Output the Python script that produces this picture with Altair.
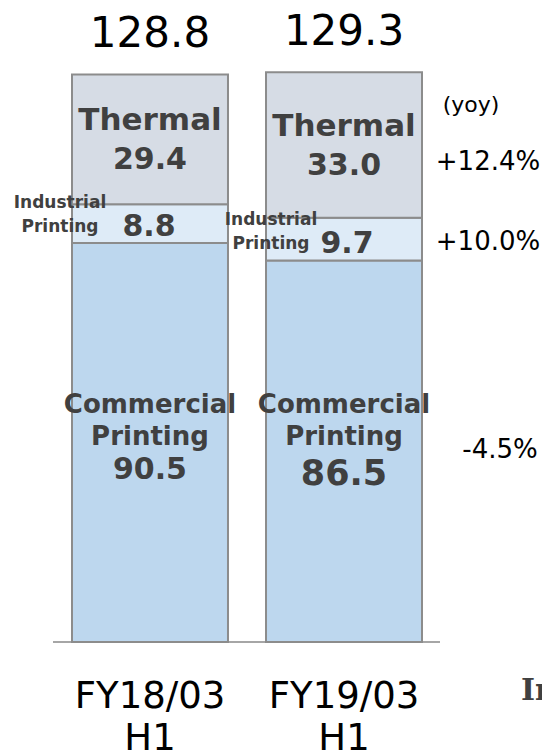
import altair as alt
import pandas as pd

periods = ["FY18/03\nH1", "FY19/03\nH1"]
segments = ["Commercial Printing", "Industrial Printing", "Thermal"]
seg_names = ["Commercial\nPrinting", "Industrial\nPrinting", "Thermal"]
commercial = [90.5, 86.5]
industrial = [8.8, 9.7]
thermal = [29.4, 33.0]
totals = [128.8, 129.3]
yoy = ["-4.5%", "+10.0%", "+12.4%"]
seg_colors = ["#bdd7ee", "#deebf7", "#d6dce5"]

FONT = "DejaVu Sans"
LABEL_COLOR = "#404040"

# build long table
rows = []
for i, p in enumerate(periods):
    lo = 0.0
    for s, nm, vals, yy in zip(segments, seg_names, [commercial, industrial, thermal], yoy):
        v = vals[i]
        rows.append({"period": p, "pidx": i, "segment": s, "name": nm, "value": v,
                     "vtext": f"{v:.1f}", "lo": lo, "hi": lo + v, "mid": lo + v / 2, "yoy": yy})
        lo += v
df = pd.DataFrame(rows)
df_tot = pd.DataFrame({"period": periods, "total": totals, "ttext": [f"{t:.1f}" for t in totals]})

xscale = alt.Scale(domain=periods, range=[72, 422], paddingInner=0.196, paddingOuter=0)
yscale = alt.Scale(domain=[0, 145.6], nice=False, zero=True)

base = alt.Chart(df)

rule = alt.Chart(pd.DataFrame({"y": [0]})).mark_rule(color="#a6a6a6", strokeWidth=2).encode(
    y=alt.Y("y:Q", scale=yscale, axis=None), x=alt.value(53), x2=alt.value(440))

bars = base.mark_bar(stroke="#8c8c8c", strokeWidth=2).encode(
    x=alt.X("period:N", scale=xscale, sort=periods,
            axis=alt.Axis(title=None, domain=False, ticks=False, labelAngle=0,
                          labelFontSize=37, labelLineHeight=42, labelPadding=36,
                          labelColor="black", labelFont=FONT, labelOverlap=False,
                          labelExpr="split(datum.label, '\\n')")),
    y=alt.Y("lo:Q", scale=yscale, axis=None),
    y2="hi:Q",
    color=alt.Color("segment:N", scale=alt.Scale(domain=segments, range=seg_colors), legend=None),
)


def seg_text(segment, pidx, field, size, dx=0, dy=0, line_height=None, color=LABEL_COLOR, bold=True):
    kw = dict(fontSize=size, font=FONT, color=color, dx=dx, dy=dy, align="center",
              baseline="middle", lineBreak="\n")
    if bold:
        kw["fontWeight"] = "bold"
    if line_height:
        kw["lineHeight"] = line_height
    flt = (alt.datum.segment == segment)
    if pidx is not None:
        flt = flt & (alt.datum.pidx == pidx)
    return base.transform_filter(flt).mark_text(**kw).encode(
        x=alt.X("period:N", scale=xscale, sort=periods),
        y=alt.Y("mid:Q", scale=yscale),
        text=f"{field}:N")


layers = [rule, bars]
# Thermal
layers.append(seg_text("Thermal", None, "name", 31, dy=-18))
layers.append(seg_text("Thermal", None, "vtext", 30, dy=21))
# Industrial (first line placed at y; following lines go downward)
layers.append(seg_text("Industrial Printing", 0, "name", 17, dx=-90, dy=-21, line_height=24))
layers.append(seg_text("Industrial Printing", 1, "name", 17, dx=-73, dy=-19, line_height=24))
layers.append(seg_text("Industrial Printing", 0, "vtext", 30, dx=-1, dy=3))
layers.append(seg_text("Industrial Printing", 1, "vtext", 30, dx=3, dy=5))
# Commercial
layers.append(seg_text("Commercial Printing", 0, "name", 26, dy=-37, line_height=32))
layers.append(seg_text("Commercial Printing", 1, "name", 26, dy=-46, line_height=32))
layers.append(seg_text("Commercial Printing", 0, "vtext", 30, dy=28))
layers.append(seg_text("Commercial Printing", 1, "vtext", 35, dy=23))

# totals
tot = alt.Chart(df_tot).mark_text(fontSize=42, font=FONT, color="black", dy=-40,
                                  align="center", baseline="middle").encode(
    x=alt.X("period:N", scale=xscale, sort=periods),
    y=alt.Y("total:Q", scale=yscale),
    text="ttext:N")
layers.append(tot)

# yoy column (aligned with latest bar's segments)
yoy_base = base.transform_filter(alt.datum.pidx == 1)
layers.append(yoy_base.transform_filter(alt.datum.segment == "Thermal").mark_text(
    fontSize=26, font=FONT, color="black", dy=17, align="center", baseline="middle").encode(
    x=alt.value(488), y=alt.Y("mid:Q", scale=yscale), text="yoy:N"))
layers.append(yoy_base.transform_filter(alt.datum.segment == "Industrial Printing").mark_text(
    fontSize=26, font=FONT, color="black", dy=3, align="center", baseline="middle").encode(
    x=alt.value(488), y=alt.Y("mid:Q", scale=yscale), text="yoy:N"))
layers.append(yoy_base.transform_filter(alt.datum.segment == "Commercial Printing").mark_text(
    fontSize=26, font=FONT, color="black", dy=-1, align="center", baseline="middle").encode(
    x=alt.value(500), y=alt.Y("mid:Q", scale=yscale), text="yoy:N"))

# (yoy) header
layers.append(alt.Chart(df_tot).transform_filter(alt.datum.period == periods[1]).mark_text(
    fontSize=22, font=FONT, color="black", dy=33, align="center", baseline="middle").encode(
    x=alt.value(471), y=alt.Y("total:Q", scale=yscale), text=alt.value("(yoy)")))

# cut-off text at the right edge
layers.append(alt.Chart(df_tot).transform_filter(alt.datum.period == periods[1]).mark_text(
    fontSize=30, font="DejaVu Serif", fontWeight="bold", color=LABEL_COLOR,
    align="left", baseline="middle").encode(
    x=alt.value(521), y=alt.value(691), text=alt.value("In")))

chart = alt.layer(*layers).properties(
    width=542, height=642,
    autosize=alt.AutoSizeParams(type="none"),
    padding={"left": 0, "top": 0, "right": 0, "bottom": 113},
).configure_view(stroke=None)

chart.save("out.html", embed_options={"renderer": "svg", "actions": False})
